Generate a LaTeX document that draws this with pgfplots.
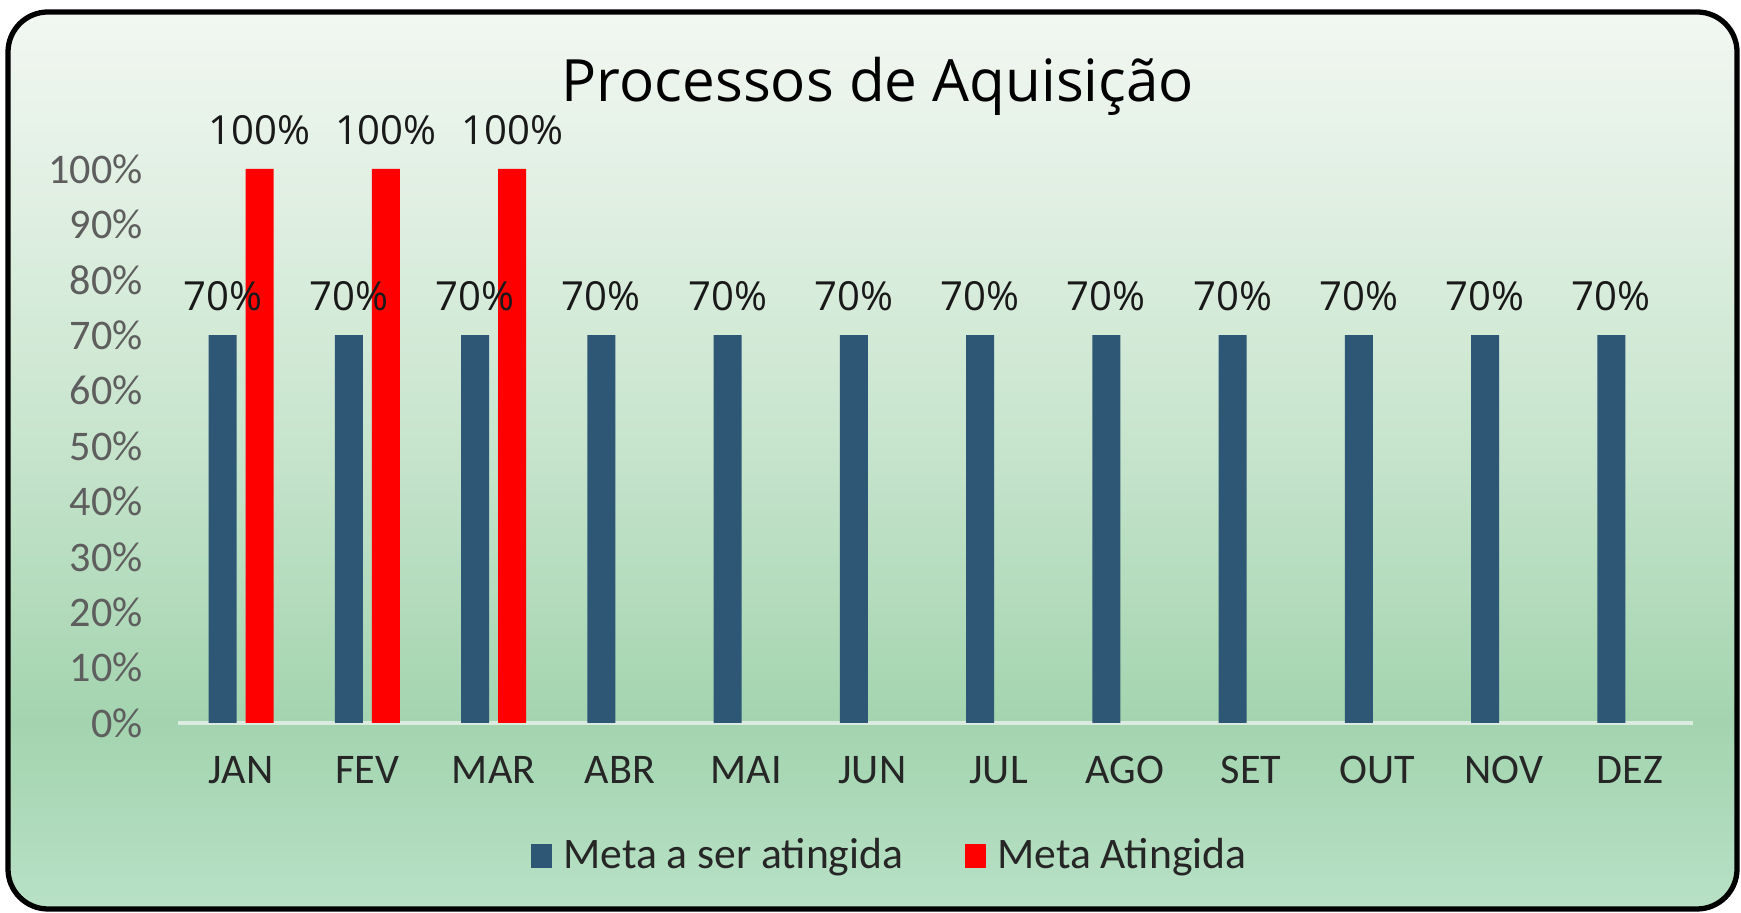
\documentclass[border=0pt]{standalone}
\usepackage{fontspec}
\setmainfont{Carlito}
\newfontfamily\osfont{Open Sans}
\usepackage{pgfplots}
\pgfplotsset{compat=1.18}
\definecolor{metablue}{HTML}{2E5675}
\definecolor{metared}{HTML}{FF0000}
\definecolor{bgtop}{HTML}{F2F7F2}
\definecolor{bgupper}{HTML}{DAEDDD}
\definecolor{bgcentre}{HTML}{C6E4CC}
\definecolor{bgmid}{HTML}{A3D4AF}
\definecolor{bgbot}{HTML}{B8E1C6}
\definecolor{ticktext}{HTML}{5E5E5E}
\definecolor{axisline}{HTML}{DCEBE0}
% tikz maps 25bp..75bp of a shading onto the path
\pgfdeclareverticalshading{chartbg}{100bp}{color(0bp)=(bgbot); color(25bp)=(bgbot); color(35.4bp)=(bgmid); color(50.5bp)=(bgcentre); color(61bp)=(bgupper); color(75bp)=(bgtop); color(100bp)=(bgtop)}

\begin{document}
\begin{tikzpicture}
  \useasboundingbox (0,0) rectangle (17.41,9.13);
  % frame with gradient fill
  \draw[line width=1.5pt, rounded corners=0.4cm, shading=chartbg] (0.08,0.04) rectangle (17.37,9.01);
  \node[anchor=base, font=\osfont\fontsize{16.6}{19}\selectfont] at (8.78,8.11) {Processos de Aquisição};
  \begin{axis}[
    at={(1.78cm,1.90cm)}, anchor=south west, scale only axis,
    width=15.15cm, height=5.54cm,
    xmin=-0.5, xmax=11.5, ymin=0, ymax=100,
    xtick={0,...,11},
    xticklabels={JAN,FEV,MAR,ABR,MAI,JUN,JUL,AGO,SET,OUT,NOV,DEZ},
    ytick={0,10,...,100},
    yticklabel={\pgfmathprintnumber{\tick}\%},
    /pgf/number format/assume math mode=true,
    major tick length=0pt,
    axis x line*=bottom, axis y line*=left,
    x axis line style={-, draw=axisline, line width=1pt},
    y axis line style={draw=none},
    yticklabel style={font=\fontsize{12}{14}\selectfont, text=ticktext, xshift=-0.23cm},
    xticklabel style={font=\fontsize{12}{14}\selectfont, text=black!85, yshift=-0.21cm},
    ybar, bar width=0.28cm,
    nodes near coords={\pgfmathprintnumber[fixed,precision=0]{\pgfplotspointmeta}\%},
    every node near coord/.append style={font=\osfont\fontsize{11.4}{13}\selectfont, text=black!90, yshift=0.12cm},
    clip=false,
    reverse legend,
    legend columns=2,
    legend style={at={(0.4715,-0.240)}, anchor=center, draw=none, fill=none,
      font=\fontsize{12.4}{14}\selectfont, text=black!85,
      /tikz/every even column/.append style={column sep=0.55cm}},
  ]
    \addplot[fill=metared, draw=none, bar shift=0.185cm,
      legend image code/.code={\fill[metared] (0cm,-0.12cm) rectangle (0.21cm,0.12cm);}]
      coordinates {(0,100) (1,100) (2,100)};
    \addlegendentry{\hspace{0.04cm}Meta Atingida}
    \addplot[fill=metablue, draw=none, bar shift=-0.185cm,
      legend image code/.code={\fill[metablue] (0cm,-0.12cm) rectangle (0.21cm,0.12cm);}]
      coordinates {(0,70) (1,70) (2,70) (3,70) (4,70) (5,70) (6,70) (7,70) (8,70) (9,70) (10,70) (11,70)};
    \addlegendentry{\hspace{0.04cm}Meta a ser atingida}
  \end{axis}
\end{tikzpicture}
\end{document}
